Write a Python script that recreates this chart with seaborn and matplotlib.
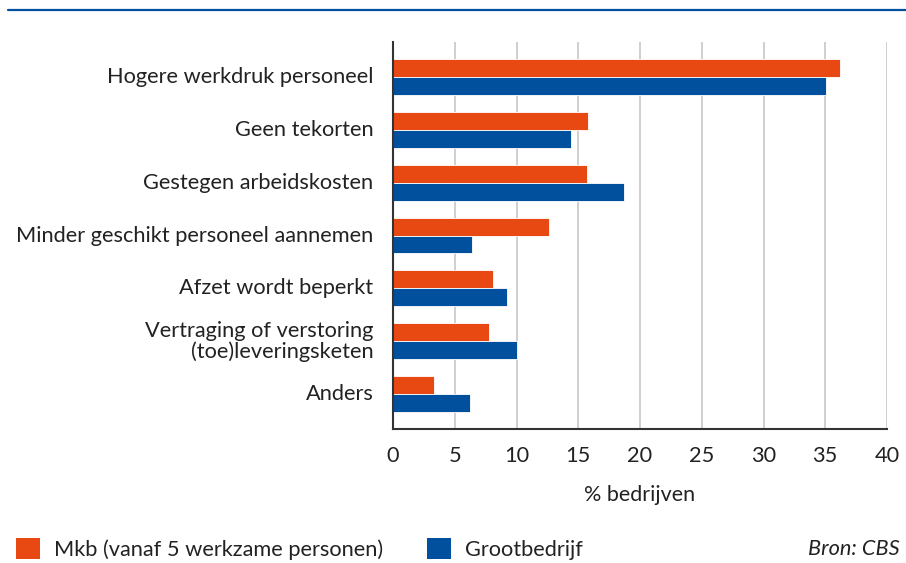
import matplotlib
matplotlib.use("Agg")
import matplotlib.pyplot as plt
import matplotlib.transforms as mtransforms
import seaborn as sns
import pandas as pd
from matplotlib.patches import Patch
from matplotlib.lines import Line2D

categories = [
    "Hogere werkdruk personeel",
    "Geen tekorten",
    "Gestegen arbeidskosten",
    "Minder geschikt personeel aannemen",
    "Afzet wordt beperkt",
    "Vertraging of verstoring\n(toe)leveringsketen",
    "Anders",
]
series_names = ["Mkb (vanaf 5 werkzame personen)", "Grootbedrijf"]
mkb = [36.2, 15.8, 15.7, 12.6, 8.1, 7.8, 3.3]
groot = [35.1, 14.4, 18.7, 6.4, 9.2, 10.0, 6.2]
x_ticks = [0, 5, 10, 15, 20, 25, 30, 35, 40]
colors = ["#E84811", "#00509E"]

df = pd.DataFrame({
    "categorie": categories * 2,
    "waarde": mkb + groot,
    "reeks": [series_names[0]] * len(categories) + [series_names[1]] * len(categories),
})

sns.set_theme(style="white")
plt.rcParams["font.family"] = ["Lato", "DejaVu Sans"]
plt.rcParams["font.weight"] = "normal"
text_color = "#222222"
fs = 15.7

fig = plt.figure(figsize=(9.06, 5.63), dpi=100)
ax = fig.add_axes([393 / 906, 1 - 429 / 563, (887 - 393) / 906, (429 - 42) / 563])

sns.barplot(data=df, y="categorie", x="waarde", hue="reeks", order=categories,
            hue_order=series_names, palette=colors, saturation=1, width=0.68, orient="h",
            edgecolor="white", linewidth=0.6, ax=ax, legend=False)

ax.set_xlim(0, 40)
ax.set_ylim(len(categories) - 0.34, -0.66)
ax.set_xticks(x_ticks)
ax.set_xticklabels([str(t) for t in x_ticks])
ax.grid(axis="x", color="#cfcfcf", linewidth=1.4)
ax.grid(axis="y", visible=False)
ax.set_axisbelow(True)
for s in ["top", "right"]:
    ax.spines[s].set_visible(False)
ax.spines["left"].set_color("#333333")
ax.spines["bottom"].set_color("#333333")
ax.spines["left"].set_linewidth(1.5)
ax.spines["bottom"].set_linewidth(1.5)
ax.tick_params(axis="y", length=0, pad=14, labelsize=fs, labelcolor=text_color)
ax.tick_params(axis="x", length=0, pad=12, labelsize=fs, labelcolor=text_color)
ax.set_ylabel("")
ax.set_xlabel("% bedrijven", fontsize=15.5, color=text_color, labelpad=14)
shift = mtransforms.ScaledTranslation(0, 2 / 100, fig.dpi_scale_trans)
for lbl in ax.get_yticklabels():
    lbl.set_horizontalalignment("right")
    lbl.set_multialignment("right")
    lbl.set_linespacing(1.0)
    lbl.set_transform(lbl.get_transform() + shift)

# top rule
fig.add_artist(Line2D([8 / 906, 1.0], [1 - 10 / 563, 1 - 10 / 563],
                      color="#00509E", linewidth=1.6, transform=fig.transFigure))

handles = [Patch(facecolor=colors[0], edgecolor="none"),
           Patch(facecolor=colors[1], edgecolor="none")]
fig.legend(handles, series_names, loc="center left", bbox_to_anchor=(-4 / 906, 1 - 549 / 563),
           ncol=2, frameon=False, fontsize=fs, handlelength=1.1, handleheight=1.1,
           handletextpad=0.65, columnspacing=2.0, labelcolor=text_color)
fig.text(900 / 906, 1 - 549 / 563, "Bron: CBS", ha="right", va="center",
         fontsize=fs, style="italic", color=text_color)

fig.savefig("out.png", dpi=100)
